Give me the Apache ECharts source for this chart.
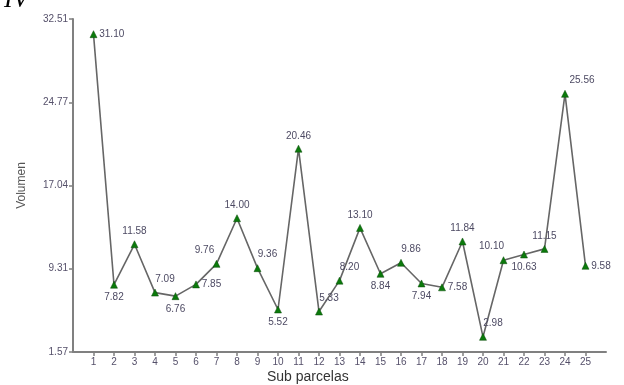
<!DOCTYPE html>
<html><head><meta charset="utf-8">
<script src="https://cdn.jsdelivr.net/npm/echarts@6/dist/echarts.min.js"></script>
<style>html,body{margin:0;padding:0;background:#fff}#c{width:624px;height:385px}</style>
</head><body><div id="c"></div>
<script>
const categories = [1,2,3,4,5,6,7,8,9,10,11,12,13,14,15,16,17,18,19,20,21,22,23,24,25];
const volumen = [31.10,7.82,11.58,7.09,6.76,7.85,9.76,14.00,9.36,5.52,20.46,5.33,8.20,13.10,8.84,9.86,7.94,7.58,11.84,2.98,10.10,10.63,11.15,25.56,9.58];
const yTicks = [1.57,9.31,17.04,24.77,32.51];
const labelPlace = ['right','bottom','top','topr','bottom','right','topl','top','topr','bottom','top','topr','topr','top','bottom','topr','bottom','right','top','topr','topl','bottom','top','topr2','right'];

function labelCfg(p){
  if(p==='topr') return {position:'top', offset:[10,0]};
  if(p==='topr2') return {position:'top', offset:[17,0]};
  if(p==='topl') return {position:'top', offset:[-12,0]};
  if(p==='right') return {position:'right', distance:2};
  return {position:p, distance:4};
}
const data = categories.map((c,i)=>({value:[c, volumen[i]], label:labelCfg(labelPlace[i])}));

const chart = echarts.init(document.getElementById('c'));
chart.setOption({
  animation:false,
  grid:{left:73, right:18, top:19, bottom:33, containLabel:false},
  xAxis:{type:'value', min:0, max:26,
    axisLine:{lineStyle:{color:'#808080', width:2}},
    axisTick:{customValues:categories, length:4, lineStyle:{color:'#808080', width:1.5}},
    axisLabel:{customValues:categories, color:'#55506a', fontSize:10, fontFamily:'Liberation Sans', margin:5},
    splitLine:{show:false}},
  yAxis:{type:'value', min:1.57, max:32.51,
    name:'Volumen', nameLocation:'middle', nameGap:45,
    nameTextStyle:{color:'#555', fontSize:12, fontFamily:'Liberation Sans'},
    axisLine:{show:true, lineStyle:{color:'#808080', width:2}},
    axisTick:{show:true, customValues:yTicks, length:4, lineStyle:{color:'#808080', width:1.5}},
    axisLabel:{customValues:yTicks, color:'#55506a', fontSize:10, fontFamily:'Liberation Sans', margin:5, formatter:v=>v.toFixed(2)},
    splitLine:{show:false}},
  graphic:[
    {type:'text', left:267, top:370, style:{text:'Sub parcelas', fill:'#333', font:'14px "Liberation Sans"'}},
    {type:'text', left:4, top:-13, style:{text:'IV', fill:'#000', font:'italic 26px "Liberation Serif"'}}
  ],
  series:[{type:'line', data:data,
    symbol:'triangle', symbolSize:7,
    itemStyle:{color:'#0b7a0b', borderColor:'#0a4a0a', borderWidth:0.5},
    lineStyle:{color:'#666', width:1.6},
    label:{show:true, color:'#4d4a63', fontSize:10, fontFamily:'Liberation Sans', formatter:p=>p.value[1].toFixed(2)}
  }]
});
</script></body></html>
